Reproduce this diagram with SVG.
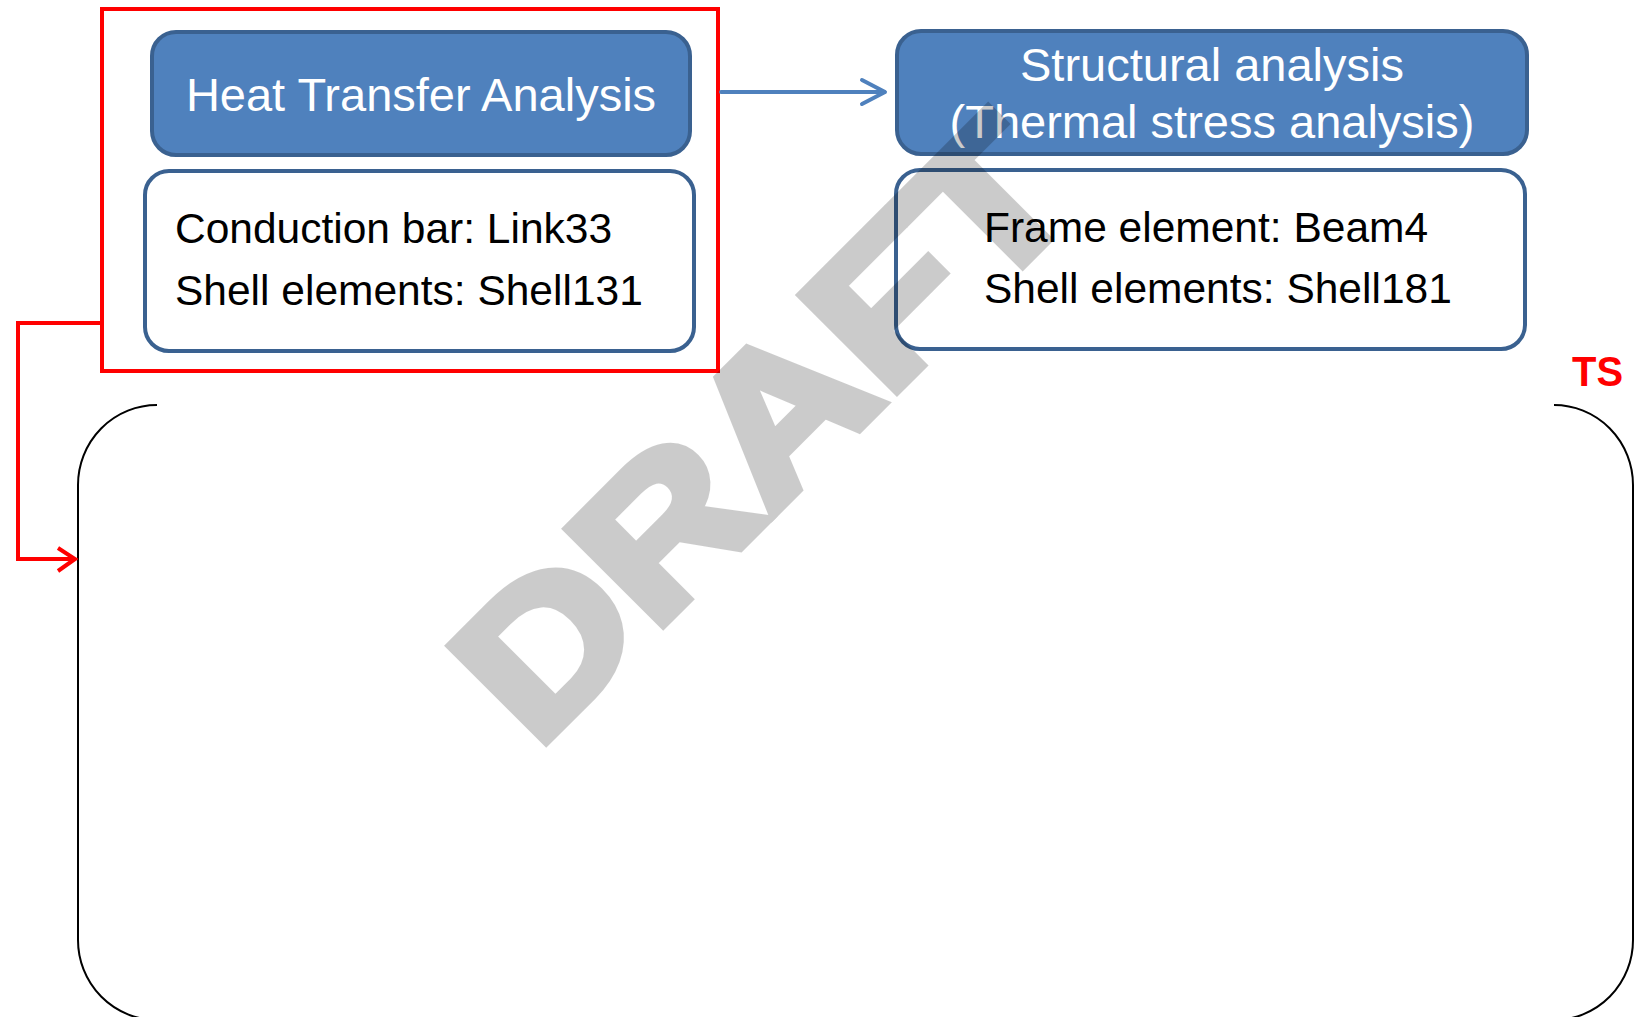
<svg xmlns="http://www.w3.org/2000/svg" width="1641" height="1017" viewBox="0 0 1641 1017">
<defs>
<style>
.hdr{fill:#4F81BD;stroke:#3A6190;stroke-width:4}
.body{fill:#FFFFFF;stroke:#3A6190;stroke-width:4}
.ht{font-family:"Liberation Sans",Arial,sans-serif;font-size:47px;fill:#FFFFFF;text-anchor:middle}
.bt{font-family:"Liberation Sans",Arial,sans-serif;font-size:42.5px;fill:#000000}
.red{fill:none;stroke:#FF0000;stroke-width:4}
.blue{fill:none;stroke:#4F81BD;stroke-width:4;stroke-linecap:round;stroke-linejoin:round}
</style>
</defs>
<rect width="1641" height="1017" fill="#FFFFFF"/>

<g id="group-frame">
<path d="M157 405 A79 80 0 0 0 78 485 V940 A79 80 0 0 0 157 1020 H1554 A79 80 0 0 0 1633 940 V485 A79 80 0 0 0 1554 405" fill="none" stroke="#000000" stroke-width="2"/>
</g>

<g id="thermal-group">
<rect x="102" y="9" width="616" height="362" class="red"/>
</g>

<g id="heat-transfer">
<rect x="152" y="32" width="538" height="123" rx="24" class="hdr"/>
<text x="421" y="111" class="ht">Heat Transfer Analysis</text>
</g>

<g id="heat-elements">
<rect x="145" y="171" width="549" height="180" rx="24" class="body"/>
<text x="175" y="243" class="bt">Conduction bar: Link33</text>
<text x="175" y="305" class="bt">Shell elements: Shell131</text>
</g>

<g id="structural">
<rect x="897" y="31" width="630" height="123" rx="24" class="hdr"/>
<text x="1212" y="81" class="ht">Structural analysis</text>
<text x="1212" y="138" class="ht">(Thermal stress analysis)</text>
</g>

<g id="structural-elements">
<rect x="896" y="170" width="629" height="179" rx="24" class="body"/>
<text x="984" y="242" class="bt">Frame element: Beam4</text>
<text x="984" y="303" class="bt">Shell elements: Shell181</text>
</g>

<g id="ts-label">
<text x="1572" y="386" font-family="'Liberation Sans',Arial,sans-serif" font-size="42" font-weight="bold" fill="#FF0000" textLength="51" lengthAdjust="spacingAndGlyphs">TS</text>
</g>

<g id="connectors">
<path d="M721 92 H884" class="blue"/>
<path d="M862 80 L885 92 L862 104" class="blue"/>
<path d="M102 323 H18 V559 H74" class="red"/>
<path d="M58 548 L75 559 L58 571" class="red"/>
</g>

<g id="watermark" opacity="0.2">
<text transform="translate(536,751) rotate(-45) scale(1.171,1)" font-family="'Liberation Sans',Arial,sans-serif" font-size="195.5" font-weight="bold" fill="#000000" stroke="#000000" stroke-width="10" stroke-linejoin="miter">DRAFT</text>
</g>
</svg>
